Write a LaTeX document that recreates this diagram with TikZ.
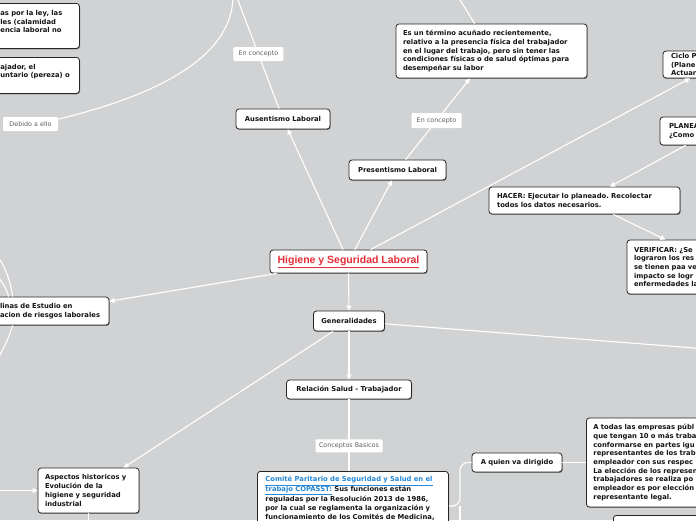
\documentclass[tikz,border=0pt]{standalone}
\usepackage{fontspec}
\setmainfont{DejaVu Sans}
\newfontfamily\titlefont{Liberation Sans}
\usetikzlibrary{arrows.meta,shadows,calc}
\definecolor{bgc}{RGB}{209,210,212}
\definecolor{titlered}{RGB}{230,44,54}
\definecolor{linkblue}{RGB}{38,136,214}
\definecolor{lblgray}{RGB}{95,95,95}
\frenchspacing
\tikzset{
  box/.style={draw=black!85, fill=white, line width=0.8pt, rounded corners=3pt,
    drop shadow={shadow xshift=0.7pt, shadow yshift=-0.9pt, opacity=0.4, fill=black},
    font=\fontsize{6.8}{8.7}\selectfont\bfseries, inner xsep=7pt, inner ysep=2pt, text=black!92},
  lbox/.style={box, align=left},
  lbl/.style={fill=white, text=lblgray, font=\fontsize{6.4}{7}\selectfont, inner sep=0pt, rounded corners=1pt},
  conn/.style={draw=white, line width=1.1pt},
  arr/.style={conn, -{Triangle[length=5pt,width=5pt]}},
}
\begin{document}
\begin{tikzpicture}[x=1pt,y=-1pt]
\useasboundingbox (0,0) rectangle (696,520);
\clip (0,0) rectangle (696,520);
\fill[bgc] (0,0) rectangle (696,520);

% free ends
\coordinate (debtop) at (233,-3);
\coordinate (topA) at (236,-5);
\coordinate (topE) at (457,-5);
\coordinate (rightG) at (720,350);
\coordinate (leftA) at (-10,490.5);
\coordinate (aspdown) at (88.5,540);
\coordinate (trunk) at (460,506);
\coordinate (trunkbot) at (460,540);
\coordinate (la1) at (-6,252);
\coordinate (la2) at (-6,272);
\coordinate (la3) at (-4,362);

% nodes
\node[lbox, anchor=north west, text width=72pt, minimum height=45pt] (tla) at (-7,3)
  {as por la ley, las\\les (calamidad\\encia laboral no\\\mbox{}};
\node[lbox, anchor=north west, text width=72pt, minimum height=36pt] (tlb) at (-7,57)
  {ajador, el\\untario (pereza) o\\\mbox{}};
\node[lbl, minimum width=55pt, minimum height=14pt] (deb) at (30.5,124) {Debido a ello};

\node[box, minimum width=94pt, minimum height=20pt] (aus) at (283,119) {Ausentismo Laboral};
\node[box, minimum width=97pt, minimum height=20pt] (pres) at (397.5,170) {Presentismo Laboral};
\node[lbox, text width=177pt, minimum height=54pt] (esun) at (491.5,51)
  {Es un término acuñado recientemente,\\relativo a la presencia física del trabajador\\en el lugar del trabajo, pero sin tener las\\condiciones físicas o de salud óptimas para\\desempeñar su labor};
\node[lbox, text width=38pt, minimum height=27pt, inner xsep=8pt] (ciclo) at (690,64.5)
  {Ciclo P\\(Plane\\Actuar};
\node[lbox, text width=86pt, minimum height=28pt, inner xsep=9pt] (plan) at (712,131)
  {PLANEA\\¿Como};
\node[lbox, text width=175pt, minimum height=27pt, inner xsep=8pt] (hacer) at (584.5,200.5)
  {HACER: Ejecutar lo planeado. Recolectar\\todos los datos necesarios.};
\node[lbox, text width=176pt, minimum height=54pt] (verif) at (722,267)
  {VERIFICAR: ¿Se\\lograron los res\\se tienen paa ve\\impacto se logr\\enfermedades la};

\node[box, minimum width=157pt, minimum height=23pt, font=\titlefont\bfseries\fontsize{10.5}{12}\selectfont, text=titlered] (hig) at (348.5,261.5)
  {\underline{Higiene y Seguridad Laboral}};
\node[lbox, text width=101pt, minimum height=28pt, inner xsep=8pt] (disc) at (50.5,311)
  {linas de Estudio en\\acion de riesgos laborales};
\node[box, minimum width=71pt, minimum height=20pt] (gen) at (349,321) {Generalidades};
\node[box, minimum width=125pt, minimum height=19pt] (rel) at (349,389.5) {Relación Salud - Trabajador};

\node[lbox, anchor=north west, text width=175pt, inner xsep=8pt, inner ysep=5pt] (comite) at (257,471)
  {\textcolor{linkblue}{\underline{Comité Paritario de Seguridad y Salud en el}}\\
   \textcolor{linkblue}{\underline{trabajo COPASST:}} Sus funciones están\\
   reguladas por la Resolución 2013 de 1986,\\
   por la cual se reglamenta la organización y\\
   funcionamiento de los Comités de Medicina,\\\mbox{}};
\node[box, minimum width=90pt, minimum height=19pt] (aquien) at (517,462.5) {A quien va dirigido};
\node[lbox, anchor=west, text width=150pt, minimum height=89pt] (atodas) at (586,462.5)
  {A todas las empresas públ\\que tengan 10 o más traba\\conformarse en partes igu\\representantes de los trab\\empleador con sus respec\\La elección de los represen\\trabajadores se realiza po\\empleador es por elección\\representante legal.};
\node[box, anchor=north west, minimum width=120pt, minimum height=30pt] (bbox) at (613,515) {};
\node[lbox, text width=87pt, minimum height=45pt] (asp) at (88.5,490.5)
  {Aspectos historicos y\\Evolución de la\\higiene y seguridad\\industrial};

% connectors
\draw[conn] (deb.10) .. controls (150,97) and (232,60) .. (debtop);
\draw[conn] (topA) -- node[lbl, pos=0.52, minimum width=50pt, minimum height=14pt] (enc1) {En concepto} (aus);
\draw[arr] (hig) -- (aus);
\draw[arr] (hig) -- (pres);
\draw[arr] (pres) -- node[lbl, pos=0.48, minimum width=50pt, minimum height=15pt] (enc2) {En concepto} (esun);
\draw[conn] (topE) -- (esun);
\draw[arr] (hig) -- (ciclo.south);
\draw[arr] (plan) -- (hacer);
\draw[arr] (hacer) -- (verif);
\draw[arr] (hig) -- (disc);
\draw[arr] (hig) -- (gen);
\draw[conn] (gen) -- (rightG);
\draw[arr] (gen) -- (asp);
\draw[arr] (gen) -- (rel);
\draw[conn] (rel) -- node[lbl, pos=0.65, minimum width=67pt, minimum height=13pt] (cb) {Conceptos Basicos} (rel |- comite.north);
\draw[conn, rounded corners=8pt] (trunk -| comite.east) -- (trunk) |- (aquien.west);
\draw[conn] (trunk) -- (trunkbot);
\draw[conn] (aquien) -- (atodas);
\draw[arr] (leftA) -- (asp);
\draw[conn] (asp) -- (aspdown);
\draw[conn] ([xshift=21pt]disc.north west) .. controls (11,282) and (4,262) .. (la1);
\draw[conn] ([xshift=17pt]disc.north west) .. controls (6,287) and (1,280) .. (la2);
\draw[conn] ([xshift=21pt]disc.south west) .. controls (9,338) and (3,350) .. (la3);
\end{tikzpicture}
\end{document}
